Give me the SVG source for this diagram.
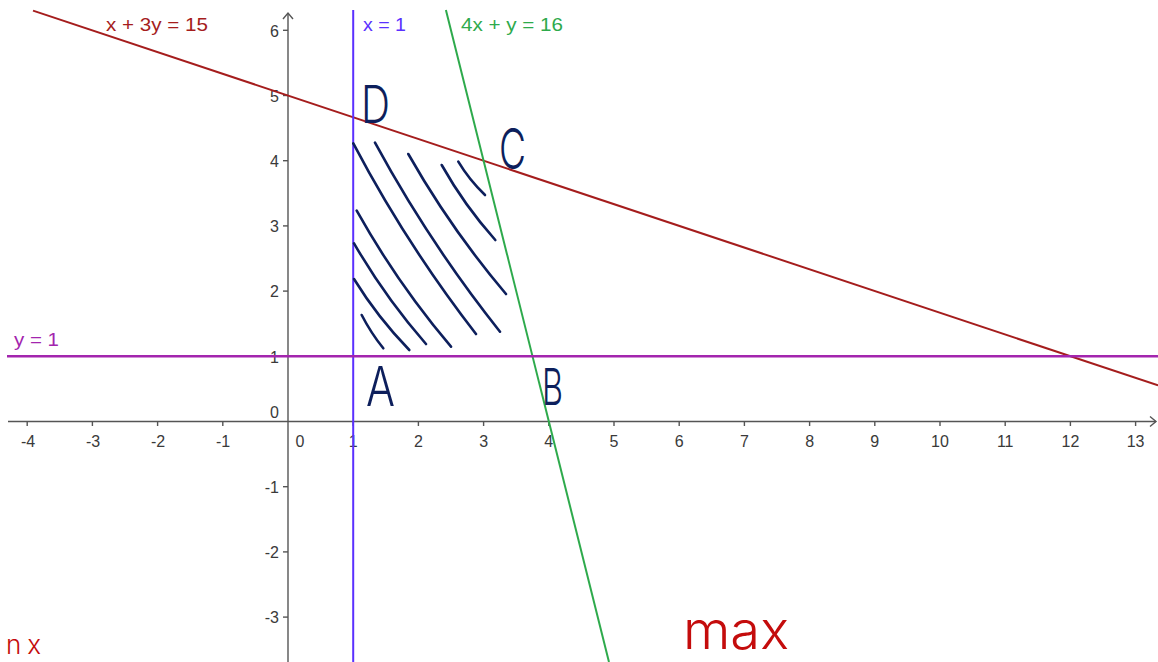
<svg xmlns="http://www.w3.org/2000/svg" width="1158" height="662" viewBox="0 0 1158 662">
<style>
.axis{stroke:#555;stroke-width:1.4;fill:none}
.tick{stroke:#555;stroke-width:1.4}
.tl{font-family:"Liberation Sans",Arial,sans-serif;font-size:16px;fill:#3a3a3a}
.tlx{text-anchor:middle}
.tly{text-anchor:end}
.eq{font-family:"Liberation Sans",Arial,sans-serif;font-size:18px}
.hatch{stroke:#0d1f5c;stroke-width:2.6;fill:none;stroke-linecap:round}
.hand{font-family:Inter,"Open Sans","Liberation Sans",sans-serif;font-weight:300;fill:#0d1f5c}
.red{font-family:Inter,"Open Sans","Liberation Sans",sans-serif;font-weight:300;fill:#c40c0c}
</style>
<rect width="1158" height="662" fill="#fff"/>

<g id="axes">
  <line class="axis" x1="8" y1="421.5" x2="1156" y2="421.5"/>
  <polyline class="axis" points="1150,416.5 1156,421.5 1150,426.5"/>
  <line class="axis" x1="288" y1="13" x2="288" y2="662"/>
  <polyline class="axis" points="283,19 288,13 293,19"/>
  <g id="xticks">
    <line class="tick" x1="27.2" y1="421.5" x2="27.2" y2="426"/>
    <line class="tick" x1="92.4" y1="421.5" x2="92.4" y2="426"/>
    <line class="tick" x1="157.6" y1="421.5" x2="157.6" y2="426"/>
    <line class="tick" x1="222.8" y1="421.5" x2="222.8" y2="426"/>
    <line class="tick" x1="353.2" y1="421.5" x2="353.2" y2="426"/>
    <line class="tick" x1="418.4" y1="421.5" x2="418.4" y2="426"/>
    <line class="tick" x1="483.6" y1="421.5" x2="483.6" y2="426"/>
    <line class="tick" x1="548.8" y1="421.5" x2="548.8" y2="426"/>
    <line class="tick" x1="614" y1="421.5" x2="614" y2="426"/>
    <line class="tick" x1="679.2" y1="421.5" x2="679.2" y2="426"/>
    <line class="tick" x1="744.4" y1="421.5" x2="744.4" y2="426"/>
    <line class="tick" x1="809.6" y1="421.5" x2="809.6" y2="426"/>
    <line class="tick" x1="874.8" y1="421.5" x2="874.8" y2="426"/>
    <line class="tick" x1="940" y1="421.5" x2="940" y2="426"/>
    <line class="tick" x1="1005.2" y1="421.5" x2="1005.2" y2="426"/>
    <line class="tick" x1="1070.4" y1="421.5" x2="1070.4" y2="426"/>
    <line class="tick" x1="1135.6" y1="421.5" x2="1135.6" y2="426"/>
  </g>
  <g id="yticks">
    <line class="tick" x1="283" y1="30.3" x2="288" y2="30.3"/>
    <line class="tick" x1="283" y1="95.5" x2="288" y2="95.5"/>
    <line class="tick" x1="283" y1="160.7" x2="288" y2="160.7"/>
    <line class="tick" x1="283" y1="225.9" x2="288" y2="225.9"/>
    <line class="tick" x1="283" y1="291.1" x2="288" y2="291.1"/>
    <line class="tick" x1="283" y1="356.3" x2="288" y2="356.3"/>
    <line class="tick" x1="283" y1="486.7" x2="288" y2="486.7"/>
    <line class="tick" x1="283" y1="551.9" x2="288" y2="551.9"/>
    <line class="tick" x1="283" y1="617.1" x2="288" y2="617.1"/>
  </g>
  <g id="xlabels" class="tl tlx">
    <text x="28" y="447">-4</text>
    <text x="93" y="447">-3</text>
    <text x="158" y="447">-2</text>
    <text x="223" y="447">-1</text>
    <text x="300" y="447">0</text>
    <text x="353.2" y="447">1</text>
    <text x="418.4" y="447">2</text>
    <text x="483.6" y="447">3</text>
    <text x="548.8" y="447">4</text>
    <text x="614" y="447">5</text>
    <text x="679.2" y="447">6</text>
    <text x="744.4" y="447">7</text>
    <text x="809.6" y="447">8</text>
    <text x="874.8" y="447">9</text>
    <text x="940" y="447">10</text>
    <text x="1005.2" y="447">11</text>
    <text x="1070.4" y="447">12</text>
    <text x="1135.6" y="447">13</text>
  </g>
  <g id="ylabels" class="tl tly">
    <text x="279" y="36.5">6</text>
    <text x="279" y="101.7">5</text>
    <text x="279" y="166.9">4</text>
    <text x="279" y="232.1">3</text>
    <text x="279" y="297.3">2</text>
    <text x="279" y="362.5">1</text>
    <text x="279" y="418">0</text>
    <text x="279" y="492.9">-1</text>
    <text x="279" y="558.1">-2</text>
    <text x="279" y="623.3">-3</text>
  </g>
</g>

<g id="connectors">
  <line id="line-red" x1="33" y1="10.6" x2="1158" y2="385.4" stroke="#a51d1d" stroke-width="2"/>
  <line id="line-blue" x1="353.2" y1="10" x2="353.2" y2="662" stroke="#5a30ff" stroke-width="2"/>
  <line id="line-green" x1="445.9" y1="10" x2="609" y2="662" stroke="#2eaa4c" stroke-width="2"/>
  <line id="line-magenta" x1="7" y1="356.3" x2="1158" y2="356.3" stroke="#a325ae" stroke-width="2.6"/>
</g>

<g id="equation-labels">
  <text class="eq" x="106" y="31" fill="#a51d1d" textLength="102" lengthAdjust="spacingAndGlyphs">x + 3y = 15</text>
  <text class="eq" x="363" y="31" fill="#5a30ff" textLength="43" lengthAdjust="spacingAndGlyphs">x = 1</text>
  <text class="eq" x="461" y="31" fill="#2eaa4c" textLength="102" lengthAdjust="spacingAndGlyphs">4x + y = 16</text>
  <text class="eq" x="14" y="346" fill="#a325ae" textLength="45" lengthAdjust="spacingAndGlyphs">y = 1</text>
</g>

<g id="hatching">
  <path class="hatch" d="M353.3,143.3 Q406.3,244.1 476,334"/>
  <path class="hatch" d="M375,142.7 Q429.2,242.7 500,331.7"/>
  <path class="hatch" d="M408.3,154 Q450.6,228.6 506,294"/>
  <path class="hatch" d="M441.7,165 Q464.4,205.4 495.3,240"/>
  <path class="hatch" d="M458.3,161.7 Q469.4,180.2 485,195"/>
  <path class="hatch" d="M356.7,210.7 Q397.3,283.3 451,346.7"/>
  <path class="hatch" d="M354,243.3 Q385.1,297.2 426,344"/>
  <path class="hatch" d="M354,279 Q377.8,317.6 409.3,350"/>
  <path class="hatch" d="M361.7,315 Q370.8,332.8 383.3,348.3"/>
</g>

<g id="vertex-D"><text class="hand" x="361" y="123" font-size="52" textLength="29" lengthAdjust="spacingAndGlyphs">D</text></g>
<g id="vertex-C"><text class="hand" x="499" y="169" font-size="56" textLength="27" lengthAdjust="spacingAndGlyphs">C</text></g>
<g id="vertex-A"><text class="hand" x="366" y="406" font-size="55" textLength="29" lengthAdjust="spacingAndGlyphs">A</text></g>
<g id="vertex-B"><text class="hand" x="542" y="405" font-size="51" textLength="21" lengthAdjust="spacingAndGlyphs">B</text></g>

<g id="notes">
  <text class="red" x="683" y="649" font-size="52" textLength="106" lengthAdjust="spacingAndGlyphs">max</text>
  <text class="red" x="6" y="654" font-size="26" letter-spacing="6">nx</text>
</g>
</svg>
